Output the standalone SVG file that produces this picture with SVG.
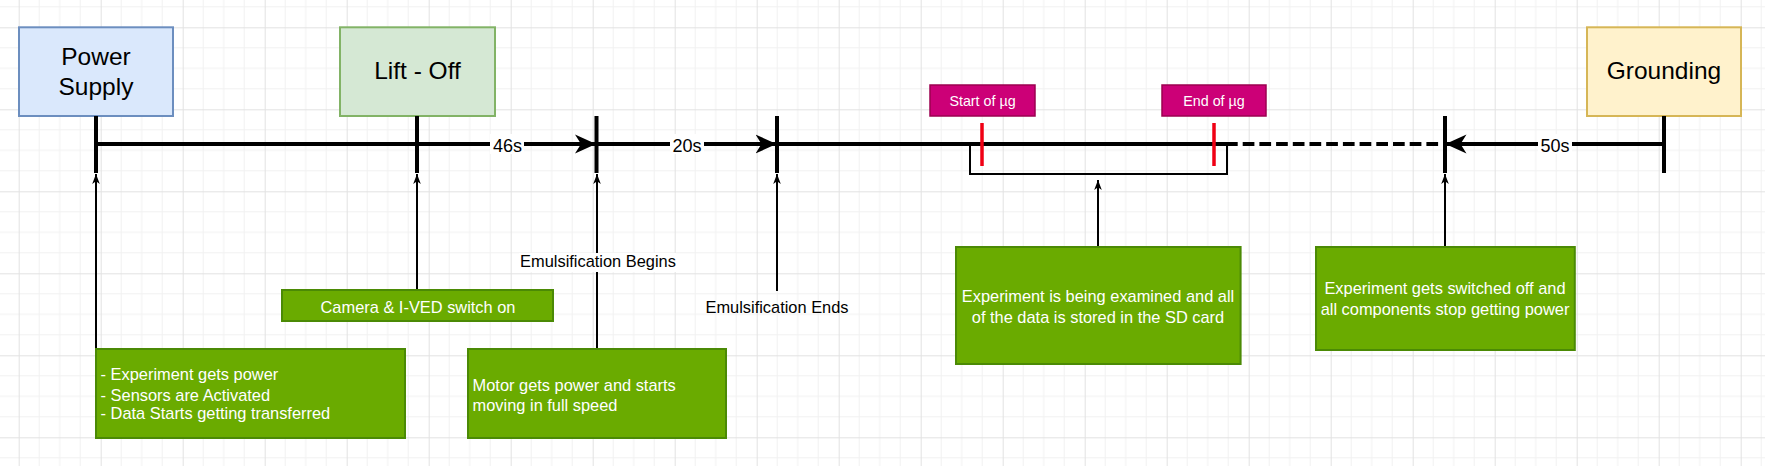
<svg xmlns="http://www.w3.org/2000/svg" width="1765" height="466" viewBox="0 0 1765 466">
<defs>
<pattern id="grid" x="18.7" y="27.3" width="82" height="82" patternUnits="userSpaceOnUse">
<path d="M20.5 0V82M41 0V82M61.5 0V82M0 20.5H82M0 41H82M0 61.5H82" stroke="#f1f1f1" stroke-width="1" fill="none"/>
<path d="M0.5 0V82M0 0.5H82" stroke="#e2e2e2" stroke-width="1" fill="none"/>
</pattern>
<marker id="big" markerUnits="userSpaceOnUse" markerWidth="24" markerHeight="22" refX="21" refY="10" orient="auto" viewBox="0 0 24 22">
<path d="M21 10L0 0.5L6 10L0 19.5Z" fill="#000"/>
</marker>
<marker id="small" markerUnits="userSpaceOnUse" markerWidth="12" markerHeight="10" refX="10" refY="4" orient="auto" viewBox="0 0 12 10">
<path d="M10 4L0 0.2L2.8 4L0 7.8Z" fill="#000"/>
</marker>
<style>
text{font-family:"Liberation Sans",Arial,sans-serif;}
.title{font-size:24.5px;fill:#000;text-anchor:middle;}
.body{font-size:16.4px;fill:#fff;}
.mid{text-anchor:middle;}
.lbl{font-size:16.4px;fill:#000;text-anchor:middle;}
.dur{font-size:18px;fill:#000;text-anchor:middle;}
.mu{font-size:14.3px;fill:#fff;text-anchor:middle;}
.green{fill:#6aab00;stroke:#4b8a05;stroke-width:2;}
.mag{fill:#cc0077;stroke:#9c0050;stroke-width:1.5;}
.tl{stroke:#000;stroke-width:4;fill:none;}
.thin{stroke:#000;stroke-width:2;fill:none;}
.red{stroke:#f00014;stroke-width:3.5;}
</style>
</defs>
<rect width="1765" height="466" fill="#fff"/>
<rect width="1765" height="466" fill="url(#grid)"/>

<g id="power-supply">
<rect x="19" y="27.3" width="154" height="88.7" fill="#dae8fc" stroke="#6c8ebf" stroke-width="2"/>
<text class="title" x="96" y="65">Power</text>
<text class="title" x="96" y="94.5">Supply</text>
</g>
<g id="lift-off">
<rect x="340" y="27.3" width="155" height="88.7" fill="#d5e8d4" stroke="#82b366" stroke-width="2"/>
<text class="title" x="417.5" y="79">Lift - Off</text>
</g>
<g id="grounding">
<rect x="1587" y="27.3" width="154" height="88.7" fill="#fff2cc" stroke="#d6b656" stroke-width="2"/>
<text class="title" x="1664" y="79">Grounding</text>
</g>
<g id="start-ug">
<rect x="930" y="85" width="105" height="31" class="mag"/>
<text class="mu" x="982.5" y="106">Start of µg</text>
</g>
<g id="end-ug">
<rect x="1162" y="85" width="104" height="31" class="mag"/>
<text class="mu" x="1214" y="106">End of µg</text>
</g>

<g id="connectors">
<!-- ticks -->
<path class="tl" d="M96 116V173M417 116V173M596.5 116V173M777 116V173M1445 116V173M1664 116V173"/>
<!-- timeline -->
<path class="tl" d="M96 144H417"/>
<path class="tl" d="M417 144H596" marker-end="url(#big)"/>
<path class="tl" d="M596.5 144H776.5" marker-end="url(#big)"/>
<path class="tl" d="M777 144H1226"/>
<path class="tl" d="M1226 144H1445" stroke-dasharray="11.7 5"/>
<path class="tl" d="M1664 144H1445.5" marker-end="url(#big)"/>
<!-- red markers -->
<path class="red" d="M982 123V166M1214 123V166"/>
<!-- bracket -->
<path class="thin" d="M970 144V174H1227V144"/>
<!-- pointer arrows -->
<path class="thin" d="M96 349V174" marker-end="url(#small)"/>
<path class="thin" d="M417 290V174" marker-end="url(#small)"/>
<path class="thin" d="M597 349V174" marker-end="url(#small)"/>
<path class="thin" d="M777 291V174" marker-end="url(#small)"/>
<path class="thin" d="M1098 247V180" marker-end="url(#small)"/>
<path class="thin" d="M1445 247V174" marker-end="url(#small)"/>
</g>

<g id="label-46s">
<rect x="490" y="134" width="34" height="20" fill="#fff"/>
<text class="dur" x="507.5" y="151.5">46s</text>
</g>
<g id="label-20s">
<rect x="670" y="134" width="34" height="20" fill="#fff"/>
<text class="dur" x="687" y="151.5">20s</text>
</g>
<g id="label-50s">
<rect x="1538" y="134" width="34" height="20" fill="#fff"/>
<text class="dur" x="1555" y="151.5">50s</text>
</g>

<g id="emulsification-begins">
<rect x="519" y="253" width="157" height="19" fill="#fff"/>
<text class="lbl" x="598" y="267">Emulsification Begins</text>
</g>
<g id="emulsification-ends">
<text class="lbl" x="777" y="313.3">Emulsification Ends</text>
</g>

<g id="box-power">
<rect x="96" y="349" width="309" height="89" class="green"/>
<text class="body" x="100.6" y="380">- Experiment gets power</text>
<text class="body" x="100.6" y="401.3">- Sensors are Activated</text>
<text class="body" x="100.6" y="419.3">- Data Starts getting transferred</text>
</g>
<g id="box-camera">
<rect x="282" y="290" width="271" height="31" class="green"/>
<text class="body mid" x="418" y="313">Camera &amp; I-VED switch on</text>
</g>
<g id="box-motor">
<rect x="468" y="349" width="258" height="89" class="green"/>
<text class="body" x="472.6" y="390.7">Motor gets power and starts</text>
<text class="body" x="472.6" y="411">moving in full speed</text>
</g>
<g id="box-examined">
<rect x="956" y="247" width="284.6" height="117" class="green"/>
<text class="body mid" x="1098" y="302">Experiment is being examined and all</text>
<text class="body mid" x="1098" y="322.7">of the data is stored in the SD card</text>
</g>
<g id="box-off">
<rect x="1316" y="247" width="258.8" height="103" class="green"/>
<text class="body mid" x="1445" y="294.3">Experiment gets switched off and</text>
<text class="body mid" x="1445" y="315">all components stop getting power</text>
</g>
</svg>
